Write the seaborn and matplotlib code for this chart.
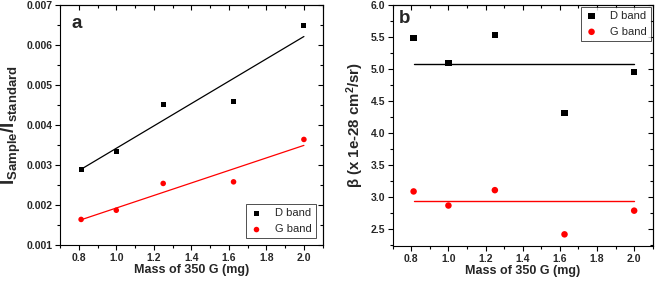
import numpy as np
import pandas as pd
import seaborn as sns
import matplotlib
matplotlib.use("Agg")
import matplotlib.pyplot as plt
from matplotlib.ticker import MultipleLocator

mass = [0.8125, 1.0, 1.25, 1.625, 2.0]
ratio_d = [0.00290, 0.00333, 0.00452, 0.00458, 0.00648]
ratio_g = [0.00164, 0.00187, 0.00254, 0.00258, 0.00364]
beta_d = [5.49, 5.10, 5.53, 4.31, 4.96]
beta_g = [3.09, 2.87, 3.11, 2.42, 2.79]
beta_d_level = 5.08
beta_g_level = 2.94

sns.set_theme(style="white")
plt.rcParams['font.family'] = ['Liberation Sans', 'DejaVu Sans']
plt.rcParams['mathtext.fontset'] = 'custom'
plt.rcParams['mathtext.rm'] = 'Liberation Sans'
plt.rcParams['mathtext.bf'] = 'Liberation Sans:bold'
plt.rcParams['mathtext.it'] = 'Liberation Sans:italic'

fig = plt.figure(figsize=(6.6, 2.81), dpi=100)
axa = fig.add_axes([0.0909, 0.128, 0.398, 0.854])
axb = fig.add_axes([0.595, 0.125, 0.394, 0.857])

dfa = pd.DataFrame({"mass": mass, "D": ratio_d, "G": ratio_g})
dfb = pd.DataFrame({"mass": mass, "D": beta_d, "G": beta_g})

def style(ax, xmin, xmax, ymin, ymax, ymaj, ymin_loc, fmt):
    ax.set_xlim(xmin, xmax)
    ax.set_ylim(ymin, ymax)
    ax.xaxis.set_major_locator(MultipleLocator(0.2))
    ax.xaxis.set_minor_locator(MultipleLocator(0.1))
    ax.yaxis.set_major_locator(MultipleLocator(ymaj))
    ax.yaxis.set_minor_locator(MultipleLocator(ymin_loc))
    ax.yaxis.set_major_formatter(matplotlib.ticker.FormatStrFormatter(fmt))
    ax.xaxis.set_major_formatter(matplotlib.ticker.FormatStrFormatter('%.1f'))
    ax.tick_params(which='both', direction='out', bottom=True, left=True,
                   top=False, right=False, color='black', width=0.8)
    ax.tick_params(which='major', length=3.5, labelsize=7.5, pad=2)
    ax.tick_params(which='minor', length=2)
    for lab in ax.get_xticklabels() + ax.get_yticklabels():
        lab.set_fontweight('bold')
    for s in ax.spines.values():
        s.set_color('black')
        s.set_linewidth(0.8)
    top = ax.secondary_xaxis('top')
    top.xaxis.set_major_locator(MultipleLocator(0.2))
    top.xaxis.set_minor_locator(MultipleLocator(0.1))
    top.tick_params(which='both', direction='in', labeltop=False, color='black', width=0.8)
    top.tick_params(which='major', length=3.5)
    top.tick_params(which='minor', length=2)
    top.spines['top'].set_linewidth(0.8)
    right = ax.secondary_yaxis('right')
    right.yaxis.set_major_locator(MultipleLocator(ymaj))
    right.yaxis.set_minor_locator(MultipleLocator(ymin_loc))
    right.tick_params(which='both', direction='in', labelright=False, color='black', width=0.8)
    right.tick_params(which='major', length=3.5)
    right.tick_params(which='minor', length=2)
    right.spines['right'].set_linewidth(0.8)

leg_kw = dict(fontsize=8, frameon=True, fancybox=False, edgecolor='black',
              borderpad=0.35, handletextpad=1.1, labelspacing=0.55, handlelength=1.2)

# panel a
sns.scatterplot(data=dfa, x="mass", y="D", ax=axa, marker='s', color='black', s=13,
                edgecolor='none', label='D band', zorder=3)
sns.scatterplot(data=dfa, x="mass", y="G", ax=axa, marker='o', color='red', s=16,
                edgecolor='none', label='G band', zorder=3)
sns.regplot(data=dfa, x="mass", y="D", ax=axa, scatter=False, ci=None, truncate=True,
            line_kws=dict(color='black', lw=0.9))
sns.regplot(data=dfa, x="mass", y="G", ax=axa, scatter=False, ci=None, truncate=True,
            line_kws=dict(color='red', lw=0.9))
style(axa, 0.7, 2.1, 0.001, 0.007, 0.001, 0.0005, '%.3f')
axa.set_xlabel('Mass of 350 G (mg)', fontsize=9, fontweight='bold', labelpad=1)
axa.set_ylabel(r'$\mathbf{I_{Sample}/I_{standard}}$', fontsize=13.5, labelpad=2)
axa.text(0.045, 0.925, 'a', transform=axa.transAxes, fontsize=13.5, fontweight='bold',
         va='center', ha='left')
leg = axa.legend(loc='lower right', borderaxespad=0.6, **leg_kw)
leg.get_frame().set_linewidth(0.6)

# panel b
sns.scatterplot(data=dfb, x="mass", y="D", ax=axb, marker='s', color='black', s=20,
                edgecolor='none', label='D band', zorder=3)
sns.scatterplot(data=dfb, x="mass", y="G", ax=axb, marker='o', color='red', s=22,
                edgecolor='none', label='G band', zorder=3)
lines_b = pd.DataFrame({"mass": [mass[0], mass[-1]] * 2,
                        "beta": [beta_d_level, beta_d_level, beta_g_level, beta_g_level],
                        "band": ["D", "D", "G", "G"]})
sns.lineplot(data=lines_b, x="mass", y="beta", hue="band", palette=['black', 'red'],
             ax=axb, legend=False, lw=1.0)
style(axb, 0.7, 2.1, 2.24, 6.0, 0.5, 0.25, '%.1f')
axb.set_xlabel('Mass of 350 G (mg)', fontsize=9, fontweight='bold', labelpad=1)
axb.set_ylabel('\u03b2 (x 1e-28 cm$^\\mathbf{2}$/sr)', fontsize=10.8, fontweight='bold', labelpad=3)
axb.text(0.022, 0.944, 'b', transform=axb.transAxes, fontsize=13.5, fontweight='bold',
         va='center', ha='left')
leg = axb.legend(loc='upper right', borderaxespad=0.15, **leg_kw)
leg.get_frame().set_linewidth(0.6)

fig.savefig('out.png', dpi=100)
